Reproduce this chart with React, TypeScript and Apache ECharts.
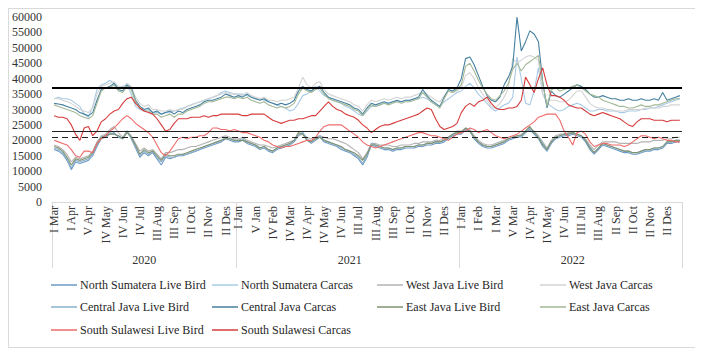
import React, { useEffect, useRef } from "react";
import * as echarts from "echarts";

// ---------- categories ----------
const years = ["2020", "2021", "2022"];
const monthNames = ["Jan", "Feb", "Mar", "Apr", "May", "Jun", "Jul", "Aug", "Sep", "Oct", "Nov", "Des"];
const romans = ["I", "II", "III", "IV", "V"];
// weeks recorded per month (Jan..Des) for each year
const weeks2020 = [0, 0, 4, 5, 4, 4, 5, 4, 5, 4, 4, 4];
const weeks2021 = [5, 4, 4, 4, 4, 5, 4, 4, 5, 4, 4, 5];
const weeks2022 = [4, 4, 5, 4, 4, 5, 4, 5, 4, 4, 4, 5];

// ---------- series values (thousand Rp/kg) ----------
const nsLiveBird = [
  17.0, 16.5, 15.5, 13.5, 10.5, 13.0, 12.5, 13.0, 13.5, 15.0, 18.0, 20.5, 21.0, 22.0, 22.5, 21.0, 20.5, 23.0, 20.5, 17.5, 14.5, 16.0, 15.0, 16.0, 14.0, 12.0, 14.5, 14.0, 14.5, 15.0, 15.0, 15.5, 16.0, 16.5, 17.0, 17.5, 18.0, 18.5, 19.0, 19.5, 20.5, 20.0, 19.5,
  19.5, 20.0, 19.0, 18.5, 18.0, 17.0, 17.5, 16.5, 16.0, 17.0, 17.5, 18.0, 18.5, 19.5, 21.5, 22.5, 20.0, 19.0, 20.0, 21.0, 19.5, 19.0, 18.5, 18.0, 17.0, 16.5, 16.0, 15.0, 14.0, 12.0, 14.5, 18.5, 18.0, 17.5, 17.0, 17.0, 16.5, 17.0, 17.0, 17.5, 17.5, 17.5, 18.0, 18.0, 18.5, 18.5, 19.0, 19.0, 19.5, 20.5, 21.5, 22.0,
  22.0, 23.5, 23.0, 20.5, 19.0, 18.0, 17.5, 17.5, 18.0, 18.5, 19.0, 20.0, 20.5, 21.0, 21.0, 22.5, 23.5, 22.0, 20.5, 18.0, 16.5, 19.0, 20.5, 21.0, 21.5, 21.5, 22.0, 21.5, 21.0, 19.5, 17.0, 15.5, 17.0, 18.5, 18.0, 17.5, 17.0, 16.5, 16.0, 16.0, 15.5, 15.5, 16.0, 16.5, 16.5, 17.0, 17.0, 17.5, 19.0, 19.0, 19.5, 19.5,
];
const nsCarcas = [
  33.5, 34.0, 33.5, 33.5, 33.0, 32.0, 31.0, 28.5, 27.5, 31.0, 36.5, 38.0, 38.5, 39.5, 38.5, 37.0, 37.5, 38.0, 35.0, 31.0, 30.0, 29.5, 30.0, 29.0, 29.0, 28.5, 29.0, 29.0, 29.5, 30.0, 30.5, 31.0, 31.5, 32.0, 32.5, 33.0, 33.5, 34.0, 34.5, 35.5, 36.0, 35.5, 35.0,
  35.0, 35.0, 34.5, 34.0, 33.5, 33.5, 33.0, 32.5, 32.0, 31.5, 31.0, 30.5, 29.5, 30.0, 32.0, 34.5, 35.0, 36.0, 37.5, 36.0, 34.5, 34.0, 33.0, 32.5, 32.0, 31.0, 30.5, 29.5, 28.5, 28.0, 29.5, 31.0, 31.0, 31.5, 32.0, 32.0, 32.5, 32.5, 32.5, 33.0, 33.0, 33.5, 33.5, 34.0, 33.5, 32.5, 31.5, 31.0, 32.5, 33.5, 34.5, 35.5,
  36.0, 37.5, 38.5, 37.0, 35.0, 33.5, 32.0, 30.5, 29.5, 30.5, 31.5, 32.0, 34.0, 47.0, 40.0, 32.0, 31.5, 36.0, 43.5, 35.0, 32.0, 31.0, 30.0, 29.5, 30.0, 31.0, 31.5, 32.0, 31.5, 30.5, 29.5, 29.5, 30.0, 30.0, 29.5, 29.5, 29.5, 29.0, 29.0, 29.5, 29.5, 29.5, 30.0, 30.0, 30.5, 30.5, 31.0, 31.5, 32.0, 32.5, 33.0, 33.5,
];
const wjLiveBird = [
  18.5, 18.0, 17.0, 15.5, 13.0, 14.5, 14.0, 14.5, 15.0, 16.5, 19.5, 21.5, 22.0, 23.5, 24.5, 22.5, 21.0, 23.0, 21.5, 19.0, 16.5, 17.5, 16.5, 17.0, 15.5, 14.0, 16.0, 16.0, 16.5, 17.0, 17.0, 17.5, 18.0, 18.0, 18.5, 19.0, 19.5, 20.0, 20.5, 21.0, 21.5, 21.0, 20.5,
  20.5, 21.0, 20.0, 19.5, 19.0, 18.5, 18.5, 18.0, 17.5, 18.0, 18.5, 19.0, 19.5, 20.0, 21.5, 22.0, 21.0, 20.5, 21.0, 21.5, 21.0, 20.5, 20.5, 20.0, 19.5, 19.0, 18.0, 17.0, 16.0, 14.0, 16.0, 19.0, 19.0, 18.5, 18.5, 18.5, 18.0, 18.0, 18.5, 18.5, 18.5, 19.0, 19.0, 19.5, 19.5, 19.5, 20.0, 20.0, 20.5, 21.0, 22.0, 23.0,
  23.0, 24.0, 23.5, 21.5, 20.0, 19.0, 18.5, 18.5, 19.0, 19.5, 20.0, 20.5, 21.0, 21.5, 22.0, 23.0, 24.0, 23.0, 21.5, 19.5, 17.5, 20.0, 21.5, 22.0, 22.0, 22.5, 22.5, 22.0, 21.5, 20.5, 18.5, 17.0, 18.5, 19.5, 19.5, 19.5, 19.5, 19.0, 19.0, 19.0, 19.0, 19.0, 19.5, 19.5, 19.5, 20.0, 20.0, 20.0, 20.5, 20.5, 21.0, 21.0,
];
const wjCarcas = [
  33.5, 33.5, 33.0, 32.5, 32.0, 31.0, 30.0, 29.5, 29.0, 30.5, 35.0, 37.5, 38.0, 38.5, 39.0, 37.5, 37.0, 38.5, 37.5, 34.0, 32.0, 31.0, 31.5, 30.0, 30.0, 29.5, 29.5, 30.0, 29.5, 30.0, 30.0, 31.0, 31.5, 32.0, 32.5, 33.0, 33.5, 34.0, 34.5, 35.0, 35.5, 35.0, 35.0,
  35.0, 34.5, 35.5, 34.5, 34.0, 33.5, 34.0, 33.0, 33.0, 32.5, 33.0, 33.0, 33.5, 34.0, 37.0, 40.5, 38.0, 37.0, 38.5, 39.0, 36.5, 35.0, 34.5, 34.0, 33.5, 33.0, 32.5, 31.5, 31.0, 29.5, 31.5, 33.0, 32.5, 33.0, 33.5, 33.0, 33.5, 34.0, 33.5, 34.0, 34.0, 34.5, 35.0, 35.5, 35.0, 34.0, 33.0, 32.5, 34.5, 36.0, 35.5, 36.0,
  37.0, 41.0, 42.0, 40.0, 37.0, 35.0, 33.0, 31.0, 30.5, 32.0, 34.0, 37.0, 46.5, 45.0, 46.0, 47.0, 47.5, 47.0, 46.0, 35.0, 33.0, 33.0, 33.0, 32.5, 32.5, 33.0, 34.5, 36.0, 36.0, 34.0, 32.0, 31.0, 30.5, 30.5, 30.0, 30.0, 29.5, 29.5, 29.5, 30.0, 30.0, 30.0, 30.0, 30.5, 30.5, 30.5, 30.5, 31.0, 31.0, 31.5, 31.5, 31.5,
];
const cjLiveBird = [
  17.5, 17.0, 16.0, 14.0, 11.0, 13.5, 13.0, 13.5, 14.0, 15.5, 18.5, 21.0, 21.5, 22.5, 22.0, 21.5, 20.5, 23.0, 21.0, 18.0, 15.0, 16.5, 15.5, 16.5, 14.5, 13.0, 15.0, 14.5, 14.5, 15.0, 15.5, 15.5, 16.0, 16.5, 17.0, 18.0, 18.5, 19.0, 19.5, 20.0, 21.0, 20.5, 20.0,
  20.0, 20.5, 19.5, 19.0, 18.5, 17.5, 18.0, 17.0, 16.5, 17.5, 18.0, 18.5, 19.0, 20.0, 22.0, 22.5, 20.5, 19.5, 20.5, 21.5, 20.0, 19.5, 19.0, 18.5, 17.5, 17.0, 16.5, 15.5, 14.5, 12.5, 15.0, 19.0, 18.5, 18.0, 17.5, 17.5, 17.0, 17.5, 17.5, 18.0, 18.0, 18.0, 18.5, 18.5, 19.0, 19.0, 19.5, 19.5, 20.0, 21.0, 22.0, 22.5,
  22.5, 23.5, 23.0, 21.0, 19.5, 18.5, 18.0, 18.0, 18.5, 19.0, 19.5, 20.5, 21.0, 21.0, 21.5, 23.0, 24.0, 22.5, 21.0, 19.0, 17.0, 19.5, 21.0, 21.5, 22.0, 22.0, 22.5, 22.0, 21.5, 20.0, 18.0, 16.0, 17.5, 19.0, 18.5, 18.0, 17.5, 17.0, 16.5, 16.5, 16.0, 16.0, 16.5, 17.0, 17.0, 17.5, 17.5, 18.0, 19.5, 19.5, 20.0, 20.0,
];
const cjCarcas = [
  32.0, 31.8, 31.5, 31.0, 30.5, 30.0, 29.0, 28.5, 28.0, 29.0, 33.0, 36.5, 37.0, 37.5, 38.5, 36.5, 36.0, 38.0, 37.0, 33.0, 31.0, 30.0, 30.5, 29.0, 29.5, 28.5, 29.0, 29.5, 28.5, 29.5, 29.0, 30.0, 30.5, 31.0, 31.5, 32.5, 33.0, 33.0, 33.5, 34.0, 35.0, 34.5, 34.0,
  34.5, 34.0, 35.0, 34.0, 33.5, 33.0, 33.5, 32.5, 32.0, 31.5, 32.0, 31.5, 32.0, 33.0, 36.0, 37.5, 36.5, 36.0, 37.0, 37.5, 35.5, 34.0, 33.5, 33.0, 32.5, 32.0, 31.5, 30.5, 30.0, 28.5, 30.5, 32.0, 31.5, 32.0, 32.5, 32.0, 32.5, 33.0, 32.5, 33.0, 33.0, 33.5, 34.0, 36.5, 34.5, 33.0, 32.0, 31.0, 34.0, 36.5, 36.0, 37.0,
  40.0, 46.5, 47.0, 44.5, 41.0, 37.5, 34.5, 33.0, 32.5, 34.0, 38.0, 40.5, 44.0, 60.0, 49.0, 52.0, 55.5, 54.5, 52.0, 39.0, 30.5, 36.0, 34.5, 34.0, 35.0, 36.0, 37.0, 38.0, 37.5, 36.5, 35.0, 34.0, 34.0, 34.5, 34.0, 33.5, 33.5, 33.0, 33.0, 33.5, 33.0, 33.0, 33.5, 33.0, 33.0, 33.5, 33.0, 35.5, 33.0, 33.5, 34.0, 34.5,
];
const ejLiveBird = [
  18.0, 17.5, 16.5, 14.5, 12.0, 14.0, 13.5, 14.0, 14.5, 16.0, 19.0, 21.0, 21.5, 22.0, 22.0, 21.5, 20.5, 22.5, 21.0, 18.5, 15.5, 17.0, 16.0, 16.5, 15.0, 13.5, 15.5, 15.0, 15.0, 15.5, 15.5, 16.0, 16.5, 17.0, 17.5, 18.0, 18.5, 19.0, 19.5, 20.0, 20.5, 20.5, 20.0,
  20.0, 20.0, 19.5, 19.0, 18.5, 17.5, 18.0, 17.0, 16.5, 17.5, 18.0, 18.5, 19.0, 20.0, 22.5, 22.0, 20.0, 19.5, 20.5, 21.0, 20.0, 19.5, 19.0, 18.5, 18.0, 17.0, 16.5, 16.0, 15.0, 13.5, 15.5, 18.5, 18.5, 18.0, 17.5, 17.5, 17.0, 17.5, 17.5, 18.0, 18.0, 18.0, 18.5, 18.5, 19.0, 19.0, 19.5, 19.5, 20.0, 21.0, 22.0, 22.5,
  22.5, 24.0, 23.0, 21.0, 19.5, 18.5, 18.0, 18.0, 18.5, 19.0, 19.5, 20.5, 21.0, 21.5, 21.5, 23.0, 24.5, 22.5, 21.0, 18.5, 17.0, 19.5, 21.0, 21.5, 22.0, 22.0, 22.5, 22.0, 21.5, 20.0, 17.5, 16.0, 17.5, 19.0, 18.5, 18.0, 17.5, 17.0, 16.5, 16.5, 16.0, 16.0, 16.5, 17.0, 17.0, 17.5, 17.5, 18.0, 19.5, 19.5, 20.0, 20.0,
];
const ejCarcas = [
  31.5, 31.0, 30.5, 30.0, 29.5, 29.0, 28.0, 27.5, 27.0, 28.0, 32.0, 36.0, 37.0, 37.0, 38.0, 36.0, 35.5, 37.5, 36.5, 32.5, 30.5, 29.5, 29.5, 28.5, 28.5, 27.5, 28.0, 28.5, 27.5, 28.5, 28.5, 29.5, 30.0, 30.5, 31.0, 32.0, 32.5, 32.5, 33.0, 33.5, 34.0, 34.0, 33.5,
  34.0, 33.5, 34.0, 33.0, 32.5, 32.0, 32.5, 31.5, 31.0, 30.5, 31.0, 30.5, 31.0, 32.0, 35.0, 37.0, 36.0, 35.5, 36.5, 37.0, 35.0, 33.5, 33.0, 32.5, 32.0, 31.5, 31.0, 30.0, 29.5, 28.0, 30.0, 31.5, 31.0, 31.5, 32.0, 31.5, 32.0, 32.5, 32.0, 32.5, 32.5, 33.0, 33.5, 35.5, 34.0, 32.5, 31.5, 30.5, 33.5, 36.0, 35.5, 36.5,
  38.0, 44.0, 45.0, 42.5, 39.5, 37.0, 35.0, 33.5, 33.0, 34.5, 36.0, 38.5, 43.0, 45.0, 42.5, 44.5, 45.5, 46.5, 47.5, 38.5, 31.0, 36.5, 37.0, 36.0, 36.5, 37.0, 37.5, 38.0, 37.0, 36.0, 35.0, 34.5, 34.0, 33.0, 32.5, 32.0, 31.5, 31.0, 31.0, 30.5, 30.5, 31.0, 31.5, 31.0, 31.0, 31.5, 31.5, 32.0, 32.5, 33.0, 33.5, 33.5,
];
const ssLiveBird = [
  20.0, 19.5, 19.0, 18.5, 17.0, 15.0, 14.5, 16.5, 16.5, 16.0, 19.0, 20.5, 21.5, 23.0, 24.0, 25.5, 27.0, 28.0, 27.0, 25.5, 24.5, 23.5, 22.5, 21.0, 18.5, 16.0, 15.0, 16.5, 18.5, 20.5, 21.0, 20.5, 21.0, 21.0, 21.5, 21.5, 22.5, 24.0, 24.0, 23.5, 23.5, 23.0, 23.5,
  23.0, 22.5, 22.5, 22.0, 21.5, 21.0, 20.0, 19.5, 18.5, 18.0, 17.5, 18.0, 18.0, 18.5, 19.0, 19.5, 20.0, 20.0, 21.0, 23.0, 24.5, 25.0, 25.0, 25.0, 25.0, 24.0, 23.0, 22.0, 21.0, 19.5, 18.5, 18.0, 17.5, 18.0, 18.5, 19.0, 19.5, 20.0, 20.5, 21.0, 21.5, 22.0, 22.5, 22.5, 22.0, 21.5, 21.5, 21.0, 20.5, 20.0, 21.0, 22.0,
  22.5, 23.0, 24.0, 23.5, 22.5, 23.0, 23.5, 22.5, 21.5, 21.0, 20.5, 21.0, 21.5, 22.0, 23.0, 24.0, 25.0, 26.0, 27.5, 28.0, 28.5, 28.5, 28.5, 26.5, 23.0, 21.0, 18.5, 22.5, 23.0, 22.0, 19.5, 18.0, 18.5, 19.0, 19.0, 18.5, 18.5, 18.5, 18.0, 18.5, 19.5, 20.5, 21.5, 21.5, 21.0, 20.5, 21.0, 20.5, 20.0, 20.0, 19.5, 19.5,
];
const ssCarcas = [
  28.0, 27.5, 27.5, 27.0, 25.0, 22.0, 20.0, 24.0, 24.5, 21.5, 23.0, 26.0, 27.0, 28.5, 29.5, 30.0, 32.0, 33.5, 34.0, 32.0, 30.5, 29.5, 29.0, 28.5, 27.0, 25.0, 23.0, 23.5, 25.5, 27.0, 27.0, 27.0, 27.5, 27.5, 27.5, 28.0, 27.5, 28.0, 28.0, 28.5, 28.5, 28.5, 28.5,
  28.5, 28.0, 28.0, 28.5, 28.5, 28.5, 28.5, 27.5, 26.5, 26.0, 25.5, 26.0, 26.5, 26.5, 27.0, 27.0, 27.5, 28.0, 28.0, 29.5, 31.0, 32.5, 31.0, 30.0, 29.5, 28.5, 28.0, 27.5, 26.5, 25.0, 24.0, 22.5, 23.5, 24.5, 25.0, 25.0, 25.5, 26.0, 26.5, 27.0, 27.5, 28.0, 28.5, 29.5, 30.5, 30.0, 27.0, 24.5, 23.5, 24.0, 24.5, 25.5,
  29.0, 31.0, 32.0, 31.0, 32.5, 33.0, 34.0, 32.0, 30.5, 30.0, 30.0, 30.5, 30.5, 31.0, 33.0, 40.5, 38.0, 35.5, 40.0, 43.5, 38.0, 34.5, 34.5, 34.0, 33.0, 31.5, 31.0, 30.5, 30.5, 29.5, 28.5, 28.0, 28.5, 29.0, 28.5, 28.0, 27.5, 27.0, 26.0, 25.0, 24.5, 26.0, 27.0, 27.0, 27.0, 26.5, 26.5, 26.5, 26.0, 26.5, 26.5, 26.5,
];

// reference price lines (Rp/kg)
const refLines = [37000, 23000, 21000];
const yTicks = { min: 0, max: 60000, step: 5000 };

const seriesNames = [
  "North Sumatera Live Bird", "North Sumatera Carcas", "West Java Live Bird", "West Java Carcas",
  "Central Java Live Bird", "Central Java Carcas", "East Java Live Bird", "East Java Carcas",
  "South Sulawesi Live Bird", "South Sulawesi Carcas",
];
const seriesValues = [nsLiveBird, nsCarcas, wjLiveBird, wjCarcas, cjLiveBird, cjCarcas, ejLiveBird, ejCarcas, ssLiveBird, ssCarcas];
const seriesColors = [
  "#6d9bc8", "#a9cbe6", "#b3b3b3", "#d3d3d3",
  "#8ab0cc", "#44809f", "#7f9270", "#a3b896",
  "#ee6b6b", "#d63c3c",
];

const FONT = "Liberation Serif";

export default function App() {
  const ref = useRef<HTMLDivElement>(null);

  useEffect(() => {
    if (!ref.current) return;
    const chart = echarts.init(ref.current, undefined, { renderer: "svg" });

    // build categories
    const categories: string[] = [];
    const yearStarts: number[] = [];
    const labelIdx = new Set<number>();
    const midIdx = new Set<number>();
    const weekTables = [weeks2020, weeks2021, weeks2022];
    years.forEach((y, yi) => {
      const start = categories.length;
      yearStarts.push(start);
      weekTables[yi].forEach((n, mi) => {
        for (let w = 0; w < n; w++) categories.push(`${y}|${romans[w]} ${monthNames[mi]}`);
      });
      const end = categories.length;
      for (let k = start; k < end; k += 4) labelIdx.add(k);
      midIdx.add(start + Math.floor((end - start) / 2));
    });
    const startSet = new Set(yearStarts);

    const legendPos = [
      [42, 270], [203, 270], [368, 270], [531, 270],
      [42, 292], [203, 292], [368, 292], [531, 292],
      [42, 315], [203, 315],
    ];

    const series: any[] = seriesNames.map((name, i) => ({
      name,
      type: "line",
      data: seriesValues[i].map((v) => v * 1000),
      symbol: "none",
      showSymbol: false,
      lineStyle: { width: 1.1, color: seriesColors[i] },
      itemStyle: { color: seriesColors[i] },
      z: i >= 8 ? 3 : 2,
    }));
    series[0].markLine = {
      silent: true,
      symbol: "none",
      label: { show: false },
      data: [
        { yAxis: refLines[0], lineStyle: { color: "#000", width: 2, type: "solid" } },
        { yAxis: refLines[1], lineStyle: { color: "#222", width: 1.2, type: "solid" } },
        { yAxis: refLines[2], lineStyle: { color: "#222", width: 1.2, type: [6, 4] } },
      ],
    };

    chart.setOption({
      animation: false,
      textStyle: { fontFamily: FONT },
      grid: { left: 43, top: 8, width: 630, height: 185, containLabel: false },
      legend: seriesNames.map((name, i) => ({
        data: [name],
        left: legendPos[i][0],
        top: legendPos[i][1],
        padding: 0,
        icon: "rect",
        itemWidth: 26,
        itemHeight: 1.5,
        itemGap: 0,
        textStyle: { fontFamily: FONT, fontSize: 12, color: "#262626", padding: [0, 0, 0, -2] },
        selectedMode: false,
      })),
      xAxis: [
        {
          type: "category",
          data: categories,
          boundaryGap: true,
          position: "bottom",
          axisLine: { show: true, lineStyle: { color: "#d9d9d9", width: 1 } },
          axisTick: {
            show: true,
            interval: (i: number) => startSet.has(i),
            length: 66,
            lineStyle: { color: "#d9d9d9", width: 1 },
          },
          axisLabel: {
            interval: (i: number) => labelIdx.has(i),
            rotate: 90,
            margin: 4,
            formatter: (v: string) => v.split("|")[1],
            fontFamily: FONT,
            fontSize: 12,
            color: "#333",
          },
          splitLine: { show: false },
        },
        {
          type: "category",
          data: categories,
          boundaryGap: true,
          position: "bottom",
          offset: 46,
          axisLine: { show: false },
          axisTick: { show: false },
          axisLabel: {
            interval: (i: number) => midIdx.has(i),
            margin: 6,
            formatter: (v: string) => v.split("|")[0],
            fontFamily: FONT,
            fontSize: 12,
            color: "#333",
          },
          splitLine: { show: false },
        },
      ],
      yAxis: {
        type: "value",
        min: yTicks.min,
        max: yTicks.max,
        interval: yTicks.step,
        axisLine: { show: false },
        axisTick: { show: false },
        splitLine: { show: false },
        axisLabel: {
          fontFamily: FONT,
          fontSize: 12,
          color: "#333",
          margin: 10,
          formatter: (v: number) => String(v),
        },
      },
      series,
    });

    return () => chart.dispose();
  }, []);

  return (
    <div style={{ width: 694, height: 340, border: "1px solid #d9d9d9", boxSizing: "border-box" }}>
      <div ref={ref} style={{ width: 692, height: 338 }} />
    </div>
  );
}
